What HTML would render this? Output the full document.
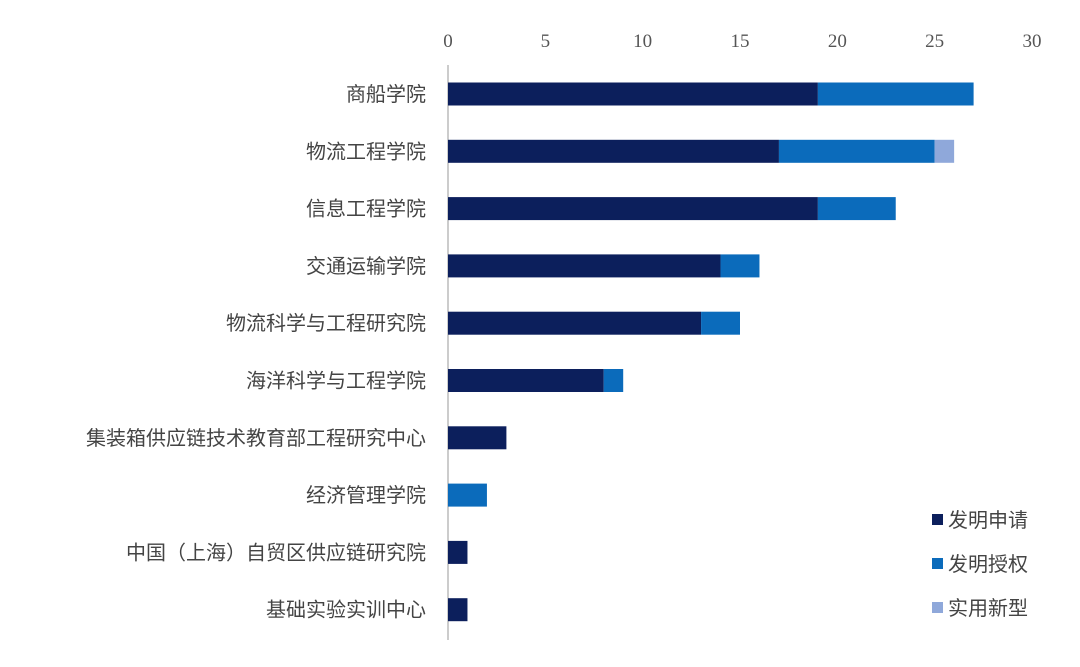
<!DOCTYPE html>
<html><head><meta charset="utf-8"><style>
body{margin:0;background:#fff}
svg text{font-family:"Liberation Sans","Noto Sans CJK SC",sans-serif}
</style></head><body>
<svg width="1080" height="662" id="chart"></svg>
<script>
const categories=["商船学院","物流工程学院","信息工程学院","交通运输学院","物流科学与工程研究院","海洋科学与工程学院","集装箱供应链技术教育部工程研究中心","经济管理学院","中国（上海）自贸区供应链研究院","基础实验实训中心"];
const seriesNames=["发明申请","发明授权","实用新型"];
const inventionApply=[19,17,19,14,13,8,3,0,1,1];
const inventionGrant=[8,8,4,2,2,1,0,2,0,0];
const utilityModel=[0,1,0,0,0,0,0,0,0,0];
const tickLabels=[0,5,10,15,20,25,30];
const colors=["#0c1f5c","#0b6bbb","#8fa8da"];
const svg=document.getElementById('chart');const NS="http://www.w3.org/2000/svg";
const x0=448,x1=1032,xMax=30;
const xs=v=>x0+v/xMax*(x1-x0);
const rowY=i=>94+i*57.3;
function mk(t,a,p){const e=document.createElementNS(NS,t);for(const k in a)e.setAttribute(k,a[k]);(p||svg).appendChild(e);return e;}
tickLabels.forEach(t=>{const e=mk('text',{x:xs(t),y:47,'text-anchor':'middle','font-size':19,fill:'#555',style:'font-family:"Liberation Serif",serif'});e.textContent=t;

});
const ax=mk('line',{x1:x0,x2:x0,y1:65,y2:640,stroke:'#bbb','stroke-width':1.5});


const series=[inventionApply,inventionGrant,utilityModel];
categories.forEach((c,i)=>{const cy=rowY(i);
const l=mk('text',{x:426,y:cy+7,'text-anchor':'end','font-size':20,fill:'#444'});l.textContent=c;


let acc=0;series.forEach((s,k)=>{const v=s[i];if(v>0){const r=mk('rect',{x:xs(acc),y:cy-11.5,width:xs(acc+v)-xs(acc),height:23,fill:colors[k]});

}acc+=v;});});
seriesNames.forEach((n,k)=>{const y=520+k*44;
const g=mk('g',{});


mk('rect',{x:932,y:y-6,width:11,height:11,fill:colors[k]},g);
const t=mk('text',{x:948,y:y+7,'font-size':20,fill:'#444'},g);t.textContent=n;});
</script>
</body></html>
